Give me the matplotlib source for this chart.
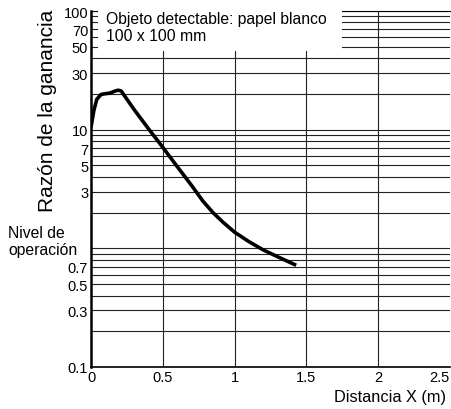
import matplotlib
matplotlib.use("Agg")
import matplotlib.pyplot as plt
from matplotlib.patches import Rectangle

plt.rcParams['font.family'] = ['Liberation Sans', 'DejaVu Sans']

# Data
distance_m = [0, 0.02, 0.04, 0.07, 0.10, 0.13, 0.17, 0.19, 0.21, 0.30, 0.40,
              0.50, 0.60, 0.70, 0.78, 0.85, 0.92, 1.0, 1.1, 1.2, 1.3, 1.43]
gain_ratio = [10.5, 14.5, 18, 19.8, 20.1, 20.3, 21.2, 21.5, 21.2, 14.8, 10.2,
              7.1, 4.9, 3.4, 2.5, 2.0, 1.66, 1.37, 1.14, 0.97, 0.85, 0.72]

ytick_vals = [100, 70, 50, 30, 10, 7, 5, 3, 0.7, 0.5, 0.3, 0.1]
ytick_labels = ["100", "70", "50", "30", "10", "7", "5", "3", "0.7", "0.5", "0.3", "0.1"]
xtick_vals = [0, 0.5, 1, 1.5, 2, 2.5]
xtick_labels = ["0", "0.5", "1", "1.5", "2", "2.5"]
hgrid_vals = [m * 10.0 ** e for e in (-1, 0, 1) for m in range(1, 10)] + [100]

fig = plt.figure(figsize=(4.51, 4.10), dpi=100)
ax = fig.add_axes([91 / 451, 42 / 410, 358.75 / 451, 356 / 410])
ax.set_yscale('log')
ax.set_xlim(0, 2.5)
ax.set_ylim(0.1, 100)

for v in hgrid_vals:
    ax.axhline(v, color='#222222', lw=0.8, zorder=1)
for v in xtick_vals[1:-1]:
    ax.axvline(v, color='#222222', lw=0.8, zorder=1)

ax.plot(distance_m, gain_ratio, color='black', lw=2.6, solid_capstyle='butt',
        solid_joinstyle='round', zorder=4)

ax.set_yticks(ytick_vals)
ax.set_yticklabels(ytick_labels)
ax.yaxis.set_minor_locator(matplotlib.ticker.NullLocator())
ax.set_xticks(xtick_vals)
ax.set_xticklabels(xtick_labels)
ax.tick_params(axis='both', length=0, labelsize=10.5, pad=2)
ax.get_xticklabels()[-1].set_ha('right')

ax.spines['right'].set_visible(False)
ax.spines['left'].set_linewidth(1.8)
ax.spines['bottom'].set_linewidth(1.2)
ax.spines['top'].set_linewidth(0.8)

# white legend box covering the gridlines
x0 = (98 - 91) / 358.75
x1 = (342 - 91) / 358.75
y0 = (368 - 52) / 356
ax.add_patch(Rectangle((x0, y0), x1 - x0, 1.02 - y0, transform=ax.transAxes,
                       facecolor='white', edgecolor='none', zorder=5, clip_on=False))
fig.text(106 / 451, 1 - 12 / 410, "Objeto detectable: papel blanco\n100 x 100 mm",
         ha='left', va='top', fontsize=11.3, linespacing=1.15, zorder=6)

fig.text(48 / 451, 1 - 111 / 410, "Razón de la ganancia", rotation=90,
         ha='center', va='center', fontsize=15)
fig.text(8 / 451, 1 - 242 / 410, "Nivel de\noperación", ha='left', va='center',
         fontsize=11.3, linespacing=1.15)
fig.text(446 / 451, 1 - 398 / 410, "Distancia X (m)", ha='right', va='center',
         fontsize=11.8)

fig.savefig("out.png", dpi=100)
